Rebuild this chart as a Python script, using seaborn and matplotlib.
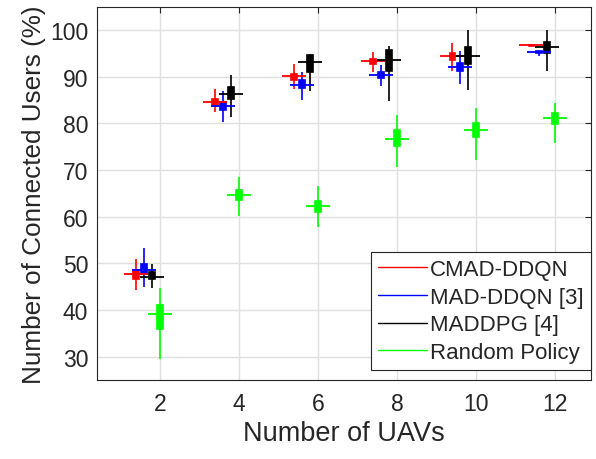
import numpy as np
import pandas as pd
import seaborn as sns
import matplotlib
matplotlib.use("Agg")
import matplotlib.pyplot as plt
from matplotlib.lines import Line2D

# number of UAVs
uavs = [2, 4, 6, 8, 10, 12]
methods = ["CMAD-DDQN", "MAD-DDQN [3]", "MADDPG [4]", "Random Policy"]

# per method: [lower whisker, q1, median, q3, upper whisker] for each UAV count
cmad = [[44.3, 46.7, 47.6, 48.5, 51.0],
        [82.4, 83.8, 84.6, 85.3, 87.3],
        [87.3, 89.2, 90.1, 90.6, 92.8],
        [91.0, 92.8, 93.3, 93.9, 95.3],
        [91.3, 93.7, 94.4, 95.1, 97.3],
        [96.3, 96.6, 96.9, 96.9, 97.0]]
mad = [[44.9, 47.7, 48.6, 49.9, 53.2],
       [80.3, 82.8, 83.7, 84.6, 86.9],
       [85.0, 87.5, 88.3, 89.2, 91.1],
       [88.0, 89.7, 90.3, 91.0, 92.6],
       [88.5, 91.2, 92.0, 93.0, 95.5],
       [94.4, 95.0, 95.3, 95.5, 95.6]]
maddpg = [[44.6, 46.6, 47.1, 48.1, 49.9],
          [81.4, 85.3, 86.4, 87.8, 90.3],
          [86.9, 91.1, 93.2, 94.6, 94.9],
          [84.8, 91.3, 93.5, 95.7, 96.5],
          [87.2, 92.7, 94.4, 96.3, 100.0],
          [91.3, 95.1, 96.3, 97.4, 100.0]]
rand = [[29.5, 36.0, 39.2, 41.0, 44.8],
        [60.2, 63.5, 64.7, 65.8, 68.5],
        [57.7, 61.0, 62.3, 63.3, 66.5],
        [70.6, 75.2, 76.7, 78.5, 81.7],
        [72.2, 77.0, 78.6, 80.1, 83.3],
        [75.8, 79.8, 81.2, 82.2, 84.4]]

colors = ["#ff0000", "#0000ff", "#000000", "#00ff00"]
offsets = [-0.6, -0.4, -0.2, 0.0]

rows = []
for m, stats, off in zip(methods, [cmad, mad, maddpg, rand], offsets):
    for n, s in zip(uavs, stats):
        for k, v in enumerate(s):
            rows.append({"method": m, "pos": n + off, "val": v, "k": k})
df = pd.DataFrame(rows)

sns.set_style("white")
plt.rcParams["font.family"] = ["Liberation Sans", "DejaVu Sans"]

fig, ax = plt.subplots(figsize=(5.96, 4.60), dpi=100)
fig.subplots_adjust(left=0.162, right=0.991, bottom=0.172, top=0.983)

for m, c in zip(methods, colors):
    sub = df[df["method"] == m]
    sns.boxplot(data=sub, x="pos", y="val", native_scale=True, orient="x",
                color=c, linecolor=c, saturation=1, width=0.07,
                whis=(0, 100), showcaps=False, showfliers=False,
                linewidth=1.2, medianprops=dict(visible=False), ax=ax)
    med = sub[sub["k"] == 2]
    sns.scatterplot(data=med, x="pos", y="val", color=c, marker="_",
                    s=300, linewidth=1.3, legend=False, ax=ax, zorder=5)

ax.set_xlim(0.4, 12.9)
ax.set_ylim(25, 105)
ax.set_xticks(uavs)
ax.set_xticklabels([str(u) for u in uavs])
ax.set_yticks(range(30, 101, 10))
ax.grid(True, color="0.88", linewidth=1)
ax.set_axisbelow(True)
ax.tick_params(direction="in", top=True, right=True, length=4,
               colors="0.15", labelsize=16.5)
ax.tick_params(axis="x", pad=9)
ax.tick_params(axis="y", pad=6)
for sp in ax.spines.values():
    sp.set_color("0.15")
    sp.set_linewidth(0.8)

ax.set_xlabel("Number of UAVs", fontsize=19.5, color="0.15", labelpad=3)
ax.set_ylabel("Number of Connected Users (%)", fontsize=18.8, color="0.15",
              labelpad=3)

handles = [Line2D([0], [0], color=c, lw=1) for c in colors]
leg = ax.legend(handles, methods, loc="lower right", bbox_to_anchor=(1.0, 0.027),
                borderaxespad=0, fontsize=16, fancybox=False, framealpha=1,
                edgecolor="0.15", handlelength=2.2, labelspacing=0.3,
                handletextpad=0.15, borderpad=0.3)
leg.get_frame().set_linewidth(0.8)

plt.savefig("out.png")
